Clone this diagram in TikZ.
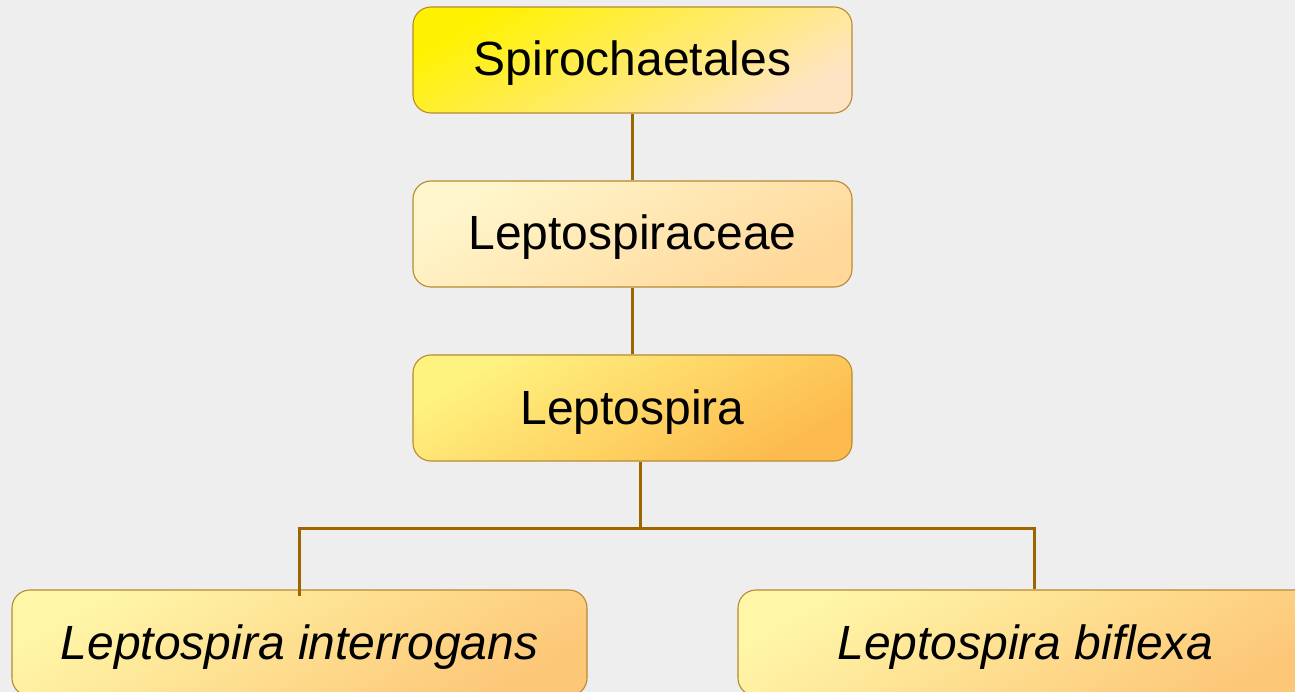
\documentclass[tikz,border=0pt]{standalone}
\usepackage{fontspec}
\setmainfont{Liberation Sans}
\definecolor{bg}{HTML}{EEEEEE}
\definecolor{conn}{HTML}{9C6500}
\definecolor{edge}{HTML}{B88A30}
\definecolor{spA}{HTML}{FFF200}
\definecolor{spB}{HTML}{FFE4C4}
\definecolor{faA}{HTML}{FFF6CC}
\definecolor{faB}{HTML}{FFD89A}
\definecolor{geA}{HTML}{FFF380}
\definecolor{geB}{HTML}{FDBA4E}
\definecolor{lfA}{HTML}{FFF6A8}
\definecolor{lfB}{HTML}{FDC778}
\begin{document}
\begin{tikzpicture}[x=1pt,y=-1pt,
  box/.style={rectangle,rounded corners=18pt,draw=edge,line width=1.1pt,
    minimum height=106pt,inner sep=0pt,text height=40pt,text depth=8pt,
    font=\fontsize{48}{52}\selectfont,text=black},
  topbox/.style={box,minimum width=439pt},
  leafbox/.style={box,minimum width=575pt,font=\fontsize{48}{52}\selectfont\itshape},
  grad/.style 2 args={top color=#1,bottom color=#2,shading angle=30},
  link/.style={draw=conn,line width=3pt}]
\useasboundingbox (0,0) rectangle (1295,692);
\fill[bg] (0,0) rectangle (1295,692);
\clip (0,0) rectangle (1295,692);
\node[topbox,grad={spA}{spB}] (sp) at (632.5,60) {Spirochaetales};
\node[topbox,grad={faA}{faB}] (fam) at (632.5,234) {Leptospiraceae};
\node[topbox,grad={geA}{geB}] (gen) at (632.5,408) {Leptospira};
\node[leafbox,grad={lfA}{lfB}] (li) at (299.5,643) {Leptospira interrogans};
\node[leafbox,grad={lfA}{lfB}] (lb) at (1025.5,643) {Leptospira biflexa};
\coordinate (j) at (640,528);
\coordinate (rj) at (1034,528);
\path[link] (sp.south) -- (fam.north);
\path[link] (fam.south) -- (gen.north);
\path[link] (gen.south -| j) -- (j);
\path[link] ([yshift=-7pt]li.north) -- (li.north |- j) -- (rj) -- (lb.north -| rj);
\end{tikzpicture}
\end{document}
